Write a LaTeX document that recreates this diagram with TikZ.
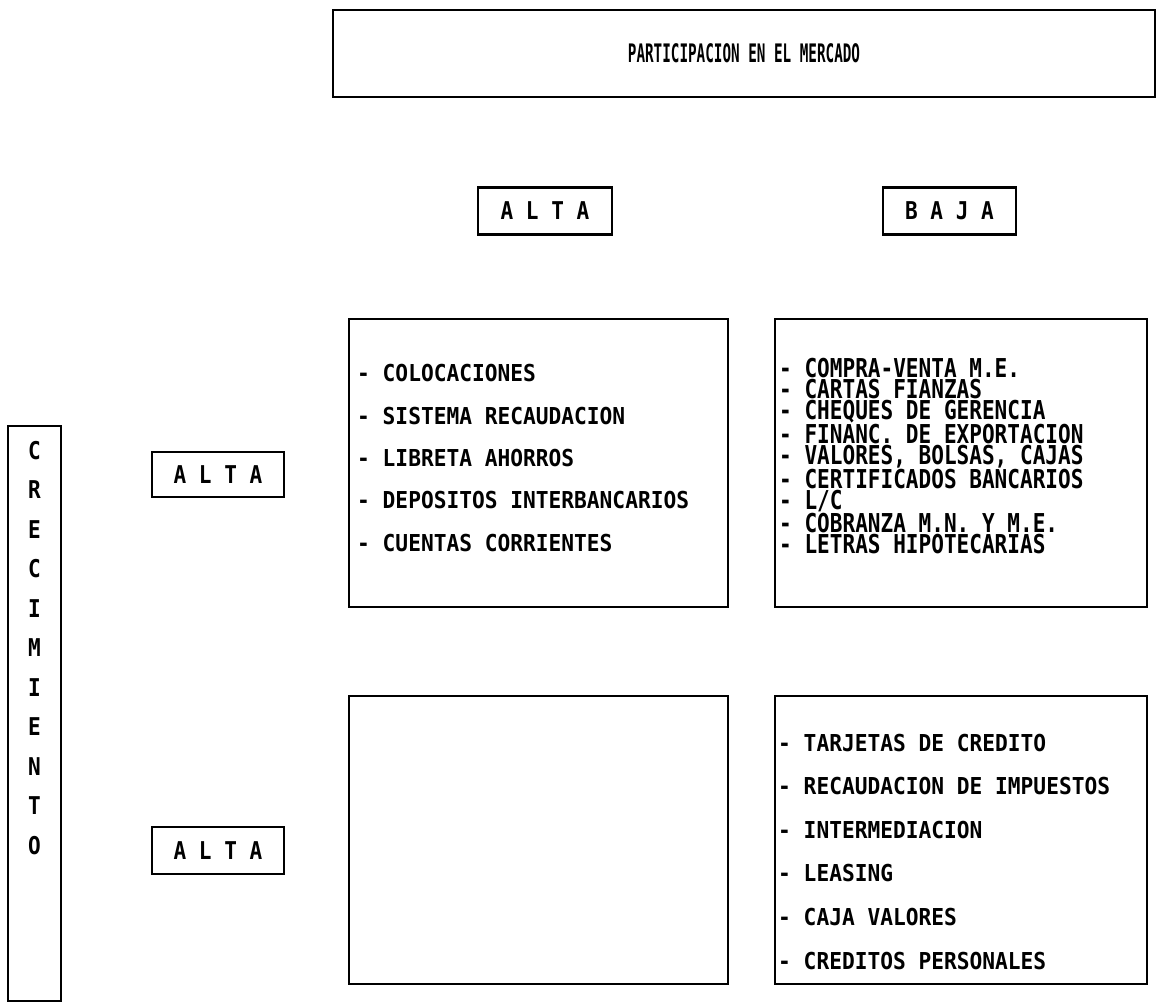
\documentclass[tikz,border=0pt]{standalone}
\usepackage{fontspec}
\newfontfamily\plotfont{DejaVu Sans Mono}[FakeStretch=0.91]
\newfontfamily\plotnarrow{DejaVu Sans Mono}[FakeStretch=0.56]
\newfontfamily\plottall{DejaVu Sans Mono}[FakeStretch=0.81]
\newfontfamily\plothead{DejaVu Sans Mono}[FakeStretch=0.86]
\begin{document}
\begin{tikzpicture}[x=1pt,y=-1pt,
  box/.style={draw,line width=2.8pt,inner sep=0pt},
  headtxt/.style={font=\plothead\bfseries\fontsize{24.5}{30}\selectfont},
  listtxt/.style={font=\plotfont\bfseries\fontsize{23.3}{42.3}\selectfont,align=left,anchor=north west,inner sep=0pt},
  densetxt/.style={font=\plottall\bfseries\fontsize{26}{21.25}\selectfont,align=left,anchor=north west,inner sep=0pt},
  lowtxt/.style={font=\plotfont\bfseries\fontsize{23.3}{43.6}\selectfont,align=left,anchor=north west,inner sep=0pt}]
\useasboundingbox (0,0) rectangle (1157,1003);
\fill[white] (0,0) rectangle (1157,1003);

% title
\node[box,minimum width=822,minimum height=87,font=\plotnarrow\bfseries\fontsize{25.5}{30}\selectfont] (mercado) at (744,53.5) {PARTICIPACION EN EL MERCADO};

% column headers
\node[box,headtxt,minimum width=134,minimum height=47] (hAlta) at (545,211) {A L T A};
\node[box,headtxt,minimum width=133,minimum height=47] (hBaja) at (949.5,211) {B A J A};

% vertical CRECIMIENTO box
\node[box,minimum width=53,minimum height=575] (crec) at (34.5,713.5) {};
\node[align=center,anchor=north,inner sep=0pt,font=\plothead\bfseries\fontsize{24.5}{39.5}\selectfont] (crectxt) at (34.5,441)
  {C\\R\\E\\C\\I\\M\\I\\E\\N\\T\\O};

% row headers
\node[box,headtxt,minimum width=132,minimum height=45] (rAltaA) at (218,474.5) {A L T A};
\node[box,headtxt,minimum width=132,minimum height=47] (rAltaB) at (218,850.5) {A L T A};

% quadrants
\node[box,minimum width=379,minimum height=288] (q11) at (538.5,463) {};
\node[box,minimum width=372,minimum height=288] (q12) at (961,463) {};
\node[box,minimum width=379,minimum height=288] (q21) at (538.5,840) {};
\node[box,minimum width=372,minimum height=288] (q22) at (961,840) {};

% quadrant texts
\node[listtxt] (t11) at (357,364.5) {- COLOCACIONES\\- SISTEMA RECAUDACION\\- LIBRETA AHORROS\\- DEPOSITOS INTERBANCARIOS\\- CUENTAS CORRIENTES};
\node[densetxt] (t12) at (779,357.5) {- COMPRA-VENTA M.E.\\- CARTAS FIANZAS\\- CHEQUES DE GERENCIA\\- FINANC. DE EXPORTACION\\- VALORES, BOLSAS, CAJAS\\- CERTIFICADOS BANCARIOS\\- L/C\\- COBRANZA M.N. Y M.E.\\- LETRAS HIPOTECARIAS};
\node[lowtxt] (t22) at (778,733.5) {- TARJETAS DE CREDITO\\- RECAUDACION DE IMPUESTOS\\- INTERMEDIACION\\- LEASING\\- CAJA VALORES\\- CREDITOS PERSONALES};
\end{tikzpicture}
\end{document}
